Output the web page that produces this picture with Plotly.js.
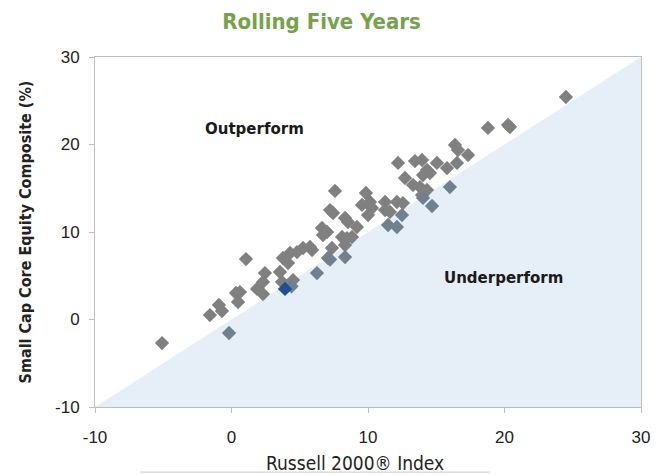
<!DOCTYPE html>
<html>
<head>
<meta charset="utf-8">
<script src="https://cdn.plot.ly/plotly-3.0.1.min.js"></script>
<style>body{margin:0;padding:0;background:#fff}#chart{width:670px;height:475px}</style>
</head>
<body>
<div id="chart"></div>
<script>
// Rolling five-year returns (%): Russell 2000 Index (x) vs Small Cap Core Equity Composite (y)
var russellX = [-5.09,-0.18,-1.58,-0.70,-0.92,0.48,0.33,0.62,1.06,1.87,2.31,2.31,2.45,3.55,3.70,4.51,3.77,4.14,4.29,4.80,5.24,5.90,5.75,6.26,6.63,7.00,6.70,7.22,7.44,7.58,8.32,8.53,9.19,8.10,8.46,8.83,7.36,8.32,8.32,7.07,9.56,10.29,10.00,9.85,10.15,11.25,11.61,11.47,12.12,11.25,12.56,12.49,12.12,12.20,12.71,13.30,13.81,14.32,13.96,14.03,13.44,13.96,15.05,15.79,14.32,14.54,14.03,16.00,14.69,16.37,16.59,17.33,16.52,18.79,20.26,20.40,24.50,4.40,7.22];
var compositeY = [-2.69,-1.54,0.51,0.97,1.66,2.00,3.03,3.14,6.91,3.49,2.91,4.29,5.31,5.43,4.29,4.51,7.03,6.46,7.60,7.71,8.17,7.94,8.29,5.31,10.46,10.00,9.66,12.51,12.17,14.69,11.60,11.14,10.57,9.43,9.31,9.43,8.17,8.51,7.14,7.03,13.09,12.74,11.94,14.46,13.43,13.43,12.29,10.80,13.43,12.51,13.31,11.94,10.57,17.89,16.17,15.37,15.14,14.80,14.23,13.89,18.11,18.23,17.89,17.31,17.09,16.74,16.51,15.14,12.97,19.94,19.37,18.80,17.89,21.89,22.23,22.00,25.43,3.80,6.86];
// Most recent period (highlighted)
var latestX = [3.92];
var latestY = [3.49];

var axisTicks = [-10, 0, 10, 20, 30];

var markerColors = russellX.map(function (x, i) {
  return compositeY[i] < x ? '#71808f' : '#808080';
});

var traces = [
  {
    x: russellX, y: compositeY, type: 'scatter', mode: 'markers',
    marker: {symbol: 'diamond', size: 11, color: markerColors},
    hoverinfo: 'x+y', showlegend: false
  },
  {
    x: latestX, y: latestY, type: 'scatter', mode: 'markers',
    marker: {symbol: 'diamond', size: 11, color: '#1f4f91'},
    hoverinfo: 'x+y', showlegend: false
  }
];

var axisFont = {family: 'Liberation Sans, Arial, sans-serif', size: 17, color: '#222'};
var narrow = 'DejaVu Sans Condensed, Liberation Sans Narrow, sans-serif';

var layout = {
  width: 670, height: 475,
  margin: {l: 95, r: 29, t: 57, b: 68},
  paper_bgcolor: '#ffffff', plot_bgcolor: '#ffffff',
  title: {
    text: '<b>Rolling Five Years</b>',
    font: {family: narrow, size: 22, color: '#76a24a'},
    x: 0.48, xanchor: 'center', y: 0.955, yanchor: 'middle'
  },
  xaxis: {
    range: [-10, 30], tickvals: axisTicks, ticktext: axisTicks.map(String),
    showgrid: false, zeroline: false, showline: true, linecolor: '#bfbfbf', linewidth: 1, mirror: true,
    ticks: 'outside', ticklen: 5, tickcolor: '#bfbfbf', tickfont: axisFont, ticklabelstandoff: 10
  },
  yaxis: {
    range: [-10, 30], tickvals: axisTicks, ticktext: axisTicks.map(String),
    showgrid: false, zeroline: false, showline: true, linecolor: '#bfbfbf', linewidth: 1, mirror: true,
    ticks: 'outside', ticklen: 5, tickcolor: '#bfbfbf', tickfont: axisFont, ticklabelstandoff: 6,
    title: {text: '<b>Small Cap Core Equity Composite (%)</b>', standoff: 19,
      font: {family: narrow, size: 16, color: '#222'}}
  },
  shapes: [
    {type: 'path', xref: 'x', yref: 'y', path: 'M -10 -10 L 30 30 L 30 -10 Z',
     fillcolor: '#e6eef7', line: {width: 0}, layer: 'below'},
    {type: 'line', xref: 'paper', yref: 'paper', x0: 0.082, x1: 0.723, y0: -0.186, y1: -0.186,
     line: {color: '#c8c8c8', width: 1}}
  ],
  annotations: [
    {x: 0.476, y: -0.16, xref: 'paper', yref: 'paper', text: 'Russell 2000® Index', showarrow: false,
     xanchor: 'center', yanchor: 'middle',
     font: {family: narrow, size: 19, color: '#222'}},
    {x: 1.65, y: 21.77, xref: 'x', yref: 'y', text: '<b>Outperform</b>', showarrow: false,
     font: {family: 'DejaVu Sans, sans-serif', size: 15, color: '#1a1a1a'}},
    {x: 19.96, y: 4.74, xref: 'x', yref: 'y', text: '<b>Underperform</b>', showarrow: false,
     font: {family: 'DejaVu Sans, sans-serif', size: 15, color: '#1a1a1a'}}
  ]
};

Plotly.newPlot('chart', traces, layout, {displayModeBar: false, staticPlot: true});
</script>
</body>
</html>
